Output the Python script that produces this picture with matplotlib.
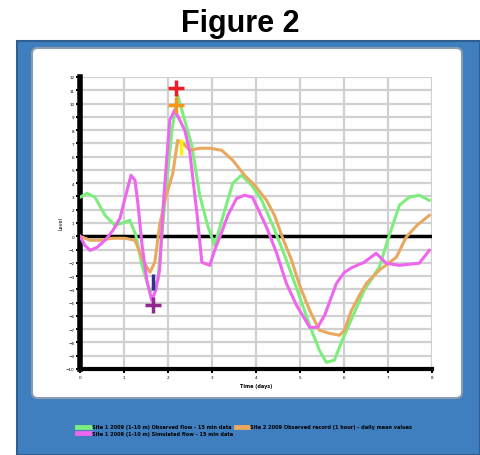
import numpy as np
import matplotlib
matplotlib.use("Agg")
import matplotlib.pyplot as plt
from matplotlib.patches import Rectangle, FancyBboxPatch

# series
green_x = [0, 0.16, 0.34, 0.57, 0.79, 1.02, 1.13, 1.27, 1.41, 1.59, 1.77, 1.93, 2.09, 2.22,
           2.38, 2.54, 2.72, 2.90, 3.06, 3.29, 3.47, 3.67, 3.90, 4.13, 4.38, 4.65, 4.94,
           5.22, 5.44, 5.60, 5.78, 5.96, 6.19, 6.46, 6.80, 7.03, 7.26, 7.48, 7.71, 7.94]
green_y = [2.94, 3.24, 2.94, 1.58, 0.83, 1.06, 1.21, 0.08, -2.19, -4.22, -3.32, 2.71, 7.99,
           10.63, 8.74, 6.86, 3.09, 0.83, -0.68, 1.96, 3.99, 4.60, 3.84, 2.71, 0.83, -1.43,
           -4.07, -6.71, -8.59, -9.50, -9.34, -7.84, -6.10, -4.07, -2.34, 0.08, 2.34, 2.94,
           3.09, 2.71]

orange_x = [0, 0.23, 0.45, 0.73, 1.02, 1.25, 1.43, 1.59, 1.70, 1.81, 1.93, 2.11, 2.22, 2.34,
            2.49, 2.72, 2.95, 3.22, 3.47, 3.74, 3.97, 4.24, 4.42, 4.60, 4.81, 4.99, 5.22,
            5.44, 5.67, 5.90, 6.01, 6.17, 6.35, 6.51, 6.80, 7.19, 7.41, 7.66, 7.94]
orange_y = [0, -0.30, -0.30, -0.15, -0.15, -0.30, -1.81, -2.71, -1.96, 0.83, 2.71, 4.75,
            7.23, 7.01, 6.48, 6.63, 6.63, 6.48, 5.73, 4.60, 3.84, 2.71, 1.58, -0.08, -1.81,
            -3.69, -5.58, -7.08, -7.31, -7.46, -7.08, -5.58, -4.45, -3.54, -2.56, -1.58,
            -0.08, 0.83, 1.58]

magenta_x = [0, 0.11, 0.23, 0.39, 0.57, 0.75, 0.91, 1.04, 1.16, 1.25, 1.32, 1.41, 1.52,
             1.63, 1.72, 1.81, 1.90, 1.97, 2.04, 2.15, 2.27, 2.38, 2.49, 2.65, 2.77, 2.95,
             3.06, 3.22, 3.36, 3.56, 3.74, 3.92, 4.08, 4.24, 4.47, 4.69, 4.92, 5.10, 5.22,
             5.40, 5.56, 5.83, 6.01, 6.19, 6.46, 6.73, 6.96, 7.26, 7.71, 7.94]
magenta_y = [0, -0.68, -1.06, -0.83, -0.30, 0.45, 1.36, 3.09, 4.60, 4.22, 2.34, -0.68,
             -3.32, -4.82, -4.07, -2.56, 2.71, 5.73, 8.74, 9.50, 8.74, 7.99, 6.48, 1.96,
             -1.96, -2.19, -1.06, 0.30, 1.58, 2.86, 3.09, 2.94, 1.81, 0.68, -1.28, -3.54,
             -5.20, -6.18, -6.86, -6.86, -5.95, -3.54, -2.71, -2.34, -1.96, -1.28, -2.03,
             -2.19, -2.03, -1.06]

# peak / trough markers
mark_x = [2.18, 2.18, 2.29, 1.66, 1.66]
mark_y = [11.15, 9.87, 6.71, -3.47, -5.2]
mark_c = ['#ee1c24', '#f7941d', '#fff200', '#2e3192', '#92278f']
mark_m = ['+', '+', '|', '|', '+']

x_ticks = [0, 1, 2, 3, 4, 5, 6, 7, 8]
y_ticks = list(range(-10, 13))

labels = ['Site 1 2009 (1-10 m) Observed flow - 15 min data',
          'Site 1 2009 (1-10 m) Simulated flow - 15 min data',
          'Site 2 2009 Observed record (1 hour) - daily mean values']

fig = plt.figure(figsize=(4.8, 4.56), dpi=100)

# blue frame and white panel
fig.patches.append(Rectangle((17 / 480, 0), 1 - 17 / 480, 1 - 42 / 456,
                             transform=fig.transFigure, facecolor='#3f7fbf',
                             edgecolor='#2f5f90', lw=1.5, zorder=0))
fig.patches.append(FancyBboxPatch((32 / 480, 57 / 456), 430 / 480, 350 / 456,
                                  boxstyle='round,pad=0,rounding_size=0.012',
                                  transform=fig.transFigure, facecolor='white',
                                  edgecolor='#8a9bb0', lw=1.5, zorder=1))

fig.text(0.5, 0.948, 'Figure 2', ha='center', va='center', fontsize=22,
         fontweight='bold', family='Liberation Sans')

ax = fig.add_axes([80 / 480, 1 - 370 / 456, 352 / 480, 292 / 456])
ax.set_zorder(2)
ax.set_facecolor('white')

ax.plot(green_x, green_y, color='#7ded7d', lw=2.2, zorder=3, label=labels[0])
ax.plot(magenta_x, magenta_y, color='#ee66ee', lw=2.2, zorder=4, label=labels[1])
ax.plot(orange_x, orange_y, color='#e8a860', lw=2.2, zorder=3, label=labels[2])
ax.axhline(0, color='black', lw=2.5, zorder=2)

for mx, my, mc, mm in zip(mark_x, mark_y, mark_c, mark_m):
    ax.plot(mx, my, marker=mm, color=mc, ms=11, mew=2.5, zorder=5)

ax.set_xlim(0, 8)
ax.set_ylim(-10, 12)
ax.set_xticks(x_ticks)
ax.set_yticks(y_ticks)
ax.grid(True, color='#d0d0d0', lw=1.6)
ax.set_axisbelow(True)
for s in ['top', 'right']:
    ax.spines[s].set_visible(False)
ax.spines['left'].set_linewidth(4)
ax.spines['bottom'].set_linewidth(3)
ax.tick_params(labelsize=3, width=1.5, length=3, pad=1)
ax.set_xlabel('Time (days)', fontsize=3.5, fontweight='bold', labelpad=3)
ax.set_ylabel('Level', fontsize=3.5, labelpad=2)

leg = ax.legend(loc='center', bbox_to_anchor=(0.51, 0.055), bbox_transform=fig.transFigure,
                ncol=2, frameon=False, handlelength=2.5, handletextpad=0.4,
                columnspacing=0.6, labelspacing=0.25,
                prop={'size': 3.6, 'weight': 'bold'})
for h in leg.legend_handles:
    h.set_linewidth(3.5)

fig.savefig('out.png', dpi=100)
